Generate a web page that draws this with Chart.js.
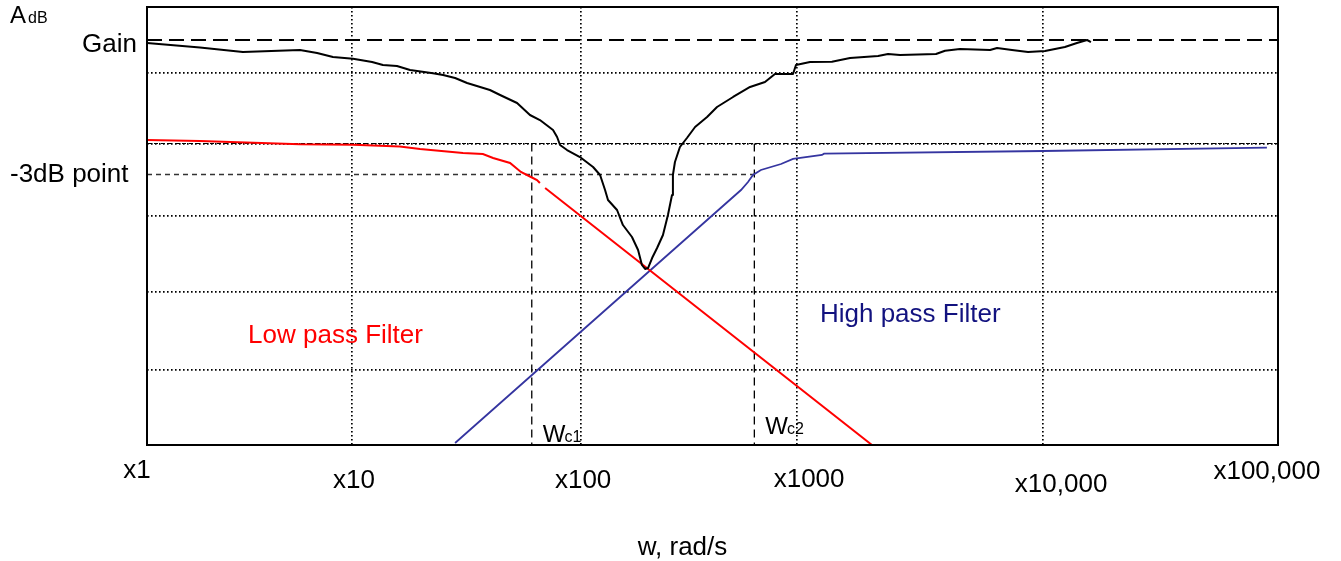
<!DOCTYPE html>
<html>
<head>
<meta charset="utf-8">
<script src="https://cdn.jsdelivr.net/npm/chart.js@4.4.1/dist/chart.umd.min.js"></script>
<style>
  html, body { margin: 0; padding: 0; background: #fff; }
  canvas { display: block; }
</style>
</head>
<body>
<canvas id="bode" width="1341" height="561"></canvas>
<script>
// x is in decades above x1 (0 = x1, 5 = x100,000), y is dB relative to the pass gain
const gridX = [0.906, 1.919, 2.874, 3.961];
const gridY = [-0.743, -2.309, -3.926, -5.628, -7.361];
const tickLabels = ['x1', 'x10', 'x100', 'x1000', 'x10,000', 'x100,000'];
const tickPos = [-0.044, 0.915, 1.928, 2.927, 4.041, 4.951];

const gainLevel = 0;
const cutoffLevel = -3;
const passLevel = -2.309;
const cutoffs = [1.701, 2.685];   // Wc1, Wc2

// combined response (black)
const bandX = [0, 0.234, 0.424, 0.676, 0.752, 0.822, 0.911, 0.995, 1.043, 1.105, 1.163, 1.264, 1.309, 1.362,
  1.415, 1.516, 1.561, 1.636, 1.693, 1.737, 1.795, 1.813, 1.826, 1.857, 1.914, 1.972, 2.003, 2.025, 2.038,
  2.078, 2.104, 2.144, 2.171, 2.188, 2.202, 2.215, 2.233, 2.255, 2.281, 2.303, 2.321, 2.325, 2.334, 2.356,
  2.387, 2.423, 2.476, 2.520, 2.591, 2.666, 2.732, 2.776, 2.856, 2.869, 2.931, 3.028, 3.108, 3.232, 3.276,
  3.329, 3.488, 3.528, 3.594, 3.727, 3.758, 3.824, 3.895, 3.970, 4.058, 4.111, 4.156, 4.173];
const bandY = [-0.067, -0.167, -0.268, -0.223, -0.290, -0.379, -0.417, -0.491, -0.558, -0.580, -0.669, -0.743,
  -0.781, -0.848, -0.959, -1.115, -1.227, -1.405, -1.673, -1.785, -2.008, -2.164, -2.342, -2.454, -2.610,
  -2.833, -3.011, -3.346, -3.569, -3.792, -4.127, -4.394, -4.684, -5.019, -5.108, -5.086, -4.863, -4.640,
  -4.350, -3.904, -3.458, -3.011, -2.721, -2.387, -2.186, -1.941, -1.718, -1.495, -1.271, -1.048, -0.937,
  -0.758, -0.758, -0.558, -0.491, -0.484, -0.402, -0.357, -0.312, -0.335, -0.312, -0.239, -0.201, -0.223,
  -0.178, -0.223, -0.268, -0.245, -0.156, -0.067, 0, -0.045];

// low pass filter (red), null = small break in the trace
const lowX = [0, 0.234, 0.676, 0.911, 1.118, 1.207, 1.397, 1.485, 1.530, 1.605, 1.653, 1.693, 1.724, 1.737, 1.748, 1.760, 3.205];
const lowY = [-2.231, -2.253, -2.327, -2.335, -2.375, -2.431, -2.521, -2.543, -2.632, -2.744, -2.944, -3.045, -3.123, -3.190, null, -3.301, -9.034];

// high pass filter (blue)
const highX = [1.362, 2.626, 2.657, 2.679, 2.714, 2.803, 2.856, 2.984, 2.993, 3.961, 4.951];
const highY = [-8.990, -3.346, -3.168, -3.011, -2.900, -2.766, -2.654, -2.565, -2.536, -2.476, -2.402];

const Y_MIN = -9.034, Y_MAX = 0.736;

const pts = (xs, ys) => xs.map((x, i) => ({ x, y: ys[i] }));

const FONT = '"Liberation Sans", Arial, sans-serif';

const annotate = {
  id: 'annotate',
  afterDraw(chart) {
    const { ctx, chartArea: a, scales: { x, y } } = chart;
    ctx.save();

    // frame
    ctx.strokeStyle = '#000';
    ctx.lineWidth = 2;
    ctx.strokeRect(a.left, a.top, a.right - a.left, a.bottom - a.top);

    ctx.fillStyle = '#000';
    ctx.textBaseline = 'alphabetic';

    // x tick labels (staggered like the original sketch)
    const drop = [33, 43, 43, 42, 47, 34];
    ctx.font = '26px ' + FONT;
    ctx.textAlign = 'center';
    tickLabels.forEach((t, i) => ctx.fillText(t, x.getPixelForValue(tickPos[i]), a.bottom + drop[i]));

    ctx.fillText('w, rad/s', (a.left + a.right) / 2 - 30, a.bottom + 110);

    // y side labels
    ctx.textAlign = 'right';
    ctx.fillText('Gain', a.left - 10, y.getPixelForValue(gainLevel) + 12);
    ctx.textAlign = 'left';
    ctx.fillText('-3dB point', 10, y.getPixelForValue(cutoffLevel) + 8);

    ctx.font = '24px ' + FONT;
    ctx.fillText('A', 10, 23);
    ctx.font = '16px ' + FONT;
    ctx.fillText('dB', 28, 23);

    // filter names
    ctx.font = '26px ' + FONT;
    ctx.fillStyle = '#ff0000';
    ctx.fillText('Low pass Filter', x.getPixelForValue(0.447), y.getPixelForValue(-6.759));
    ctx.fillStyle = '#12127f';
    ctx.fillText('High pass Filter', x.getPixelForValue(2.975), y.getPixelForValue(-6.290));

    // cutoff labels
    ctx.fillStyle = '#000';
    const lift = [3, 11];
    cutoffs.forEach((c, i) => {
      const px = x.getPixelForValue(c) + 11;
      const base = a.bottom - lift[i];
      ctx.font = '24px ' + FONT;
      ctx.fillText('W', px, base);
      const w = ctx.measureText('W').width;
      ctx.font = '16px ' + FONT;
      ctx.fillText('c' + (i + 1), px + w - 1, base);
    });

    ctx.restore();
  }
};

const refLine = (data, dash, width, color) => ({
  data, borderDash: dash, borderWidth: width, borderColor: color,
  pointRadius: 0, fill: false, tension: 0
});

new Chart(document.getElementById('bode'), {
  type: 'line',
  data: {
    datasets: [
      { data: pts(bandX, bandY), borderColor: '#000', borderWidth: 2, pointRadius: 0, tension: 0, borderJoinStyle: 'round' },
      { data: pts(lowX, lowY), borderColor: '#ff0000', borderWidth: 2, pointRadius: 0, tension: 0, spanGaps: false },
      { data: pts(highX, highY), borderColor: '#3535a0', borderWidth: 1.8, pointRadius: 0, tension: 0 },
      refLine([{ x: 0, y: gainLevel }, { x: 5, y: gainLevel }], [15, 7], 2, '#000'),
      refLine([{ x: 0, y: cutoffLevel }, { x: cutoffs[1], y: cutoffLevel }], [5, 4], 1.3, '#333'),
      refLine([{ x: 0, y: passLevel }, { x: 5, y: passLevel }], [4, 3], 1, '#000'),
      refLine([{ x: cutoffs[0], y: passLevel }, { x: cutoffs[0], y: Y_MIN }], [8, 5], 1.3, '#000'),
      refLine([{ x: cutoffs[1], y: passLevel }, { x: cutoffs[1], y: Y_MIN }], [8, 5], 1.3, '#000')
    ]
  },
  options: {
    responsive: false,
    animation: false,
    layout: { padding: { left: 147, top: 7, right: 63, bottom: 116 } },
    plugins: { legend: { display: false }, tooltip: { enabled: false } },
    scales: {
      x: {
        type: 'linear', min: 0, max: 5,
        afterBuildTicks: s => { s.ticks = gridX.map(v => ({ value: v })); },
        ticks: { display: false },
        grid: { drawTicks: false, color: '#000', lineWidth: 1.7 },
        border: { display: false, dash: [1.6, 2.4] }
      },
      y: {
        type: 'linear', min: Y_MIN, max: Y_MAX,
        afterBuildTicks: s => { s.ticks = gridY.map(v => ({ value: v })); },
        ticks: { display: false },
        grid: { drawTicks: false, color: '#000', lineWidth: 1.7 },
        border: { display: false, dash: [1.6, 2.4] }
      }
    }
  },
  plugins: [annotate]
});
</script>
</body>
</html>
